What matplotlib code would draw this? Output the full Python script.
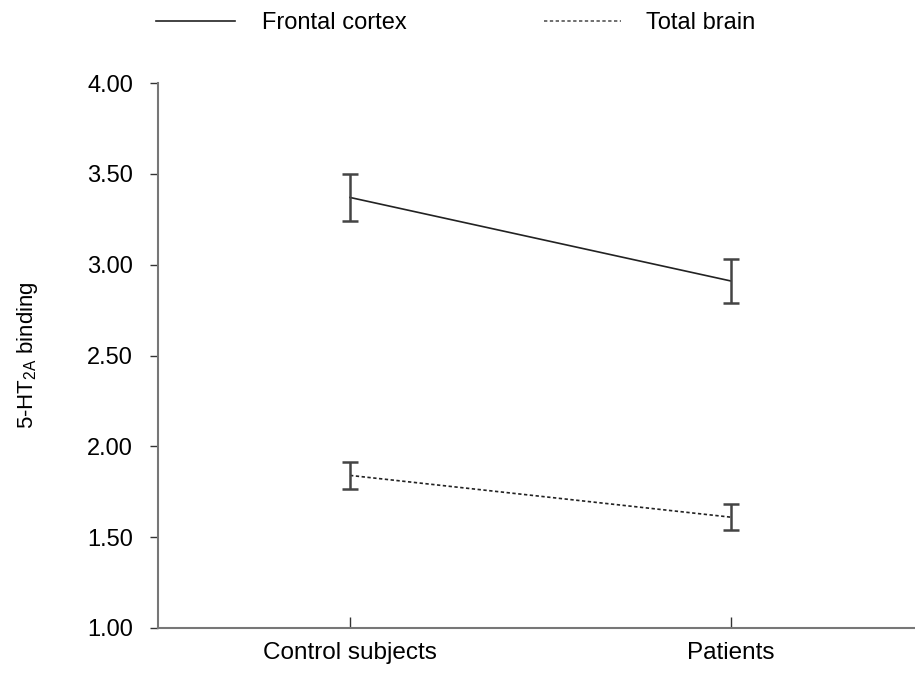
import matplotlib.pyplot as plt
from matplotlib.lines import Line2D

plt.rcParams['font.family'] = ['Liberation Sans', 'DejaVu Sans']

groups = ['Control subjects', 'Patients']
series = ['Frontal cortex', 'Total brain']
frontal_mean = [3.37, 2.91]
frontal_err = [0.13, 0.12]
total_mean = [1.84, 1.61]
total_err = [0.075, 0.07]
yticks = [1.0, 1.5, 2.0, 2.5, 3.0, 3.5, 4.0]

W, H = 915, 691
fig = plt.figure(figsize=(W / 100, H / 100), dpi=100)
ax = fig.add_axes([158 / W, 63 / H, 757 / W, 545 / H])

dotted = (0, (2, 1.5))
x = [0, 1]
ax.plot(x, frontal_mean, color='#222222', lw=1.2)
ax.errorbar(x, frontal_mean, yerr=frontal_err, fmt='none', ecolor='#444444',
            elinewidth=1.8, capsize=6, capthick=1.8)
ax.plot(x, total_mean, color='#222222', lw=1.2, linestyle=dotted)
ax.errorbar(x, total_mean, yerr=total_err, fmt='none', ecolor='#444444',
            elinewidth=1.8, capsize=6, capthick=1.8)

ax.set_xlim(-0.504, 1.483)
ax.set_ylim(1.0, 4.0)
ax.set_xticks(x)
ax.set_xticklabels(groups)
ax.set_yticks(yticks)
ax.set_yticklabels(['%.2f' % v for v in yticks])

for s in ['top', 'right']:
    ax.spines[s].set_visible(False)
for s in ['left', 'bottom']:
    ax.spines[s].set_color('#777777')
    ax.spines[s].set_linewidth(1.5)

ax.tick_params(axis='y', direction='out', length=6, width=1, colors='#333333',
               labelsize=17, labelcolor='black', pad=12)
ax.tick_params(axis='x', direction='in', length=8, width=1, colors='#333333',
               labelsize=17.5, labelcolor='black', pad=10)

ax.set_ylabel('5-HT$_{\\mathregular{2A}}$ binding', fontsize=16, labelpad=34)

# legend drawn across the top of the figure
line_y = 1 - 21 / H
text_y = 1 - 23 / H
fig.add_artist(Line2D([156 / W, 235 / W], [line_y, line_y], color='#222222', lw=1.2))
fig.text(262 / W, text_y, series[0], fontsize=17, va='center', ha='left')
fig.add_artist(Line2D([544 / W, 621 / W], [line_y, line_y], color='#555555',
                      lw=1.2, linestyle=dotted))
fig.text(646 / W, text_y, series[1], fontsize=17, va='center', ha='left')

fig.savefig('out.png', dpi=100)
